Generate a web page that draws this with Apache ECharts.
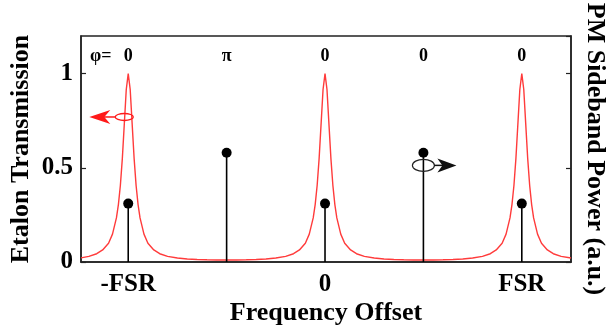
<!DOCTYPE html>
<html>
<head>
<meta charset="utf-8">
<script src="https://cdn.jsdelivr.net/npm/echarts@6/dist/echarts.min.js"></script>
<style>
html,body{margin:0;padding:0;background:#fff;}
#c{width:608px;height:330px;}
</style>
</head>
<body>
<div id="c"></div>
<script>
// Etalon transmission (red curve)
var freqOffset = [-1.24,-1.2,-1.16,-1.13,-1.1,-1.08,-1.06,-1.05,-1.04,-1.03,-1.02,-1.01,-1,
  -0.99,-0.98,-0.97,-0.96,-0.95,-0.94,-0.92,-0.9,-0.87,-0.84,-0.8,-0.75,-0.7,-0.65,-0.6,-0.55,-0.5,
  -0.45,-0.4,-0.35,-0.3,-0.25,-0.2,-0.16,-0.13,-0.1,-0.08,-0.06,-0.05,-0.04,-0.03,-0.02,-0.01,0,
  0.01,0.02,0.03,0.04,0.05,0.06,0.08,0.1,0.13,0.16,0.2,0.25,0.3,0.35,0.4,0.45,0.5,
  0.55,0.6,0.65,0.7,0.75,0.8,0.84,0.87,0.9,0.92,0.94,0.95,0.96,0.97,0.98,0.99,1,
  1.01,1.02,1.03,1.04,1.05,1.06,1.08,1.1,1.13,1.16,1.2,1.25];
var transmission = [0.022,0.03,0.044,0.064,0.10,0.148,0.234,0.305,0.406,0.549,0.732,0.916,1,
  0.916,0.732,0.549,0.406,0.305,0.234,0.148,0.10,0.064,0.044,0.03,0.021,0.016,0.0134,0.0117,0.0109,0.0106,
  0.0109,0.0117,0.0134,0.016,0.021,0.03,0.044,0.064,0.10,0.148,0.234,0.305,0.406,0.549,0.732,0.916,1,
  0.916,0.732,0.549,0.406,0.305,0.234,0.148,0.10,0.064,0.044,0.03,0.021,0.016,0.0134,0.0117,0.0109,0.0106,
  0.0109,0.0117,0.0134,0.016,0.021,0.03,0.044,0.064,0.10,0.148,0.234,0.305,0.406,0.549,0.732,0.916,1,
  0.916,0.732,0.549,0.406,0.305,0.234,0.148,0.10,0.064,0.044,0.03,0.021];

// PM sidebands (stems)
var sidebandPos = [-1, -0.5, 0, 0.5, 1];
var sidebandPower = [0.31, 0.58, 0.31, 0.58, 0.31];

// phase labels
var phasePos = [-1.14, -1, -0.5, 0, 0.5, 1];
var phaseText = ['\u03C6=', '0', '\u03C0', '0', '0', '0'];
var phaseLevel = 1.09;

// axis ticks
var xTickValues = [-1, 0, 1];
var xTickLabels = ['-FSR', '0', 'FSR'];

var SERIF = '"Liberation Serif","DejaVu Serif",serif';

var chart = echarts.init(document.getElementById('c'), null, {renderer: 'canvas'});

var curveData = freqOffset.map(function (x, i) { return [x, transmission[i]]; });
var stemData = sidebandPos.map(function (x, i) { return [x, sidebandPower[i]]; });
var phaseData = phasePos.map(function (x, i) { return {value: [x, phaseLevel], name: phaseText[i]}; });

var axisLineStyle = {color: '#222', width: 1.5};

chart.setOption({
  animation: false,
  backgroundColor: '#fff',
  grid: {left: 81, right: 37, top: 36, bottom: 68, outerBoundsMode: 'none', containLabel: false,
    show: true, borderColor: '#222', borderWidth: 1.5, backgroundColor: 'transparent'},
  xAxis: {
    type: 'value', min: -1.24, max: 1.25,
    splitLine: {show: false},
    axisLine: {show: true, lineStyle: axisLineStyle, onZero: false},
    axisTick: {show: false},
    axisLabel: {
      customValues: xTickValues,
      margin: 10,
      color: '#000', fontFamily: SERIF, fontWeight: 'bold', fontSize: 25,
      formatter: function (v) {
        for (var i = 0; i < xTickValues.length; i++) if (Math.abs(v - xTickValues[i]) < 1e-6) return xTickLabels[i];
        return '';
      }
    },
    name: 'Frequency Offset', nameLocation: 'middle', nameGap: 38, nameMoveOverlap: false,
    nameTextStyle: {color: '#000', fontFamily: SERIF, fontWeight: 'bold', fontSize: 26}
  },
  yAxis: [{
    type: 'value', min: 0, max: 1.2, interval: 0.5,
    splitLine: {show: false},
    axisLine: {show: true, lineStyle: axisLineStyle, onZero: false},
    axisTick: {show: true, inside: true, length: 5, lineStyle: {color: '#222', width: 1.2}},
    axisLabel: {showMaxLabel: false, margin: 8, color: '#000', fontFamily: SERIF, fontWeight: 'bold', fontSize: 25},
    name: 'Etalon Transmission', nameLocation: 'middle', nameRotate: 90, nameGap: 47, nameMoveOverlap: false,
    nameTextStyle: {color: '#000', fontFamily: SERIF, fontWeight: 'bold', fontSize: 26}
  }, {
    type: 'value', min: 0, max: 1.2, interval: 0.5, position: 'right',
    splitLine: {show: false},
    axisLine: {show: true, lineStyle: axisLineStyle, onZero: false},
    axisTick: {show: true, inside: true, length: 5, lineStyle: {color: '#222', width: 1.2}},
    axisLabel: {show: false},
    name: 'PM Sideband Power (a.u.)', nameLocation: 'middle', nameRotate: -90, nameGap: 11, nameMoveOverlap: false,
    nameTextStyle: {color: '#000', fontFamily: SERIF, fontWeight: 'bold', fontSize: 26}
  }],
  series: [{
    type: 'line', data: curveData, showSymbol: false, symbol: 'none',
    lineStyle: {color: '#ff3b3b', width: 1.4}, z: 2, silent: true
  }, {
    type: 'bar', data: stemData, yAxisIndex: 1, barWidth: 1.6,
    itemStyle: {color: '#000'}, z: 3, silent: true
  }, {
    type: 'scatter', data: stemData, yAxisIndex: 1, symbol: 'circle', symbolSize: 10,
    itemStyle: {color: '#000', opacity: 1}, z: 4, silent: true
  }, {
    type: 'scatter', data: phaseData, symbolSize: 0, silent: true,
    itemStyle: {opacity: 1},
    label: {show: true, position: 'inside', formatter: function (p) { return p.name; },
      color: '#000', opacity: 1, fontFamily: SERIF, fontWeight: 'bold', fontSize: 18}
  }]
});

// annotations (axis-direction indicators)
var redC = chart.convertToPixel({gridIndex: 0}, [-1.02, 0.77]);
var blkC = chart.convertToPixel({gridIndex: 0}, [0.5, 0.513]);
chart.setOption({
  graphic: [
    {type: 'ellipse', shape: {cx: redC[0], cy: redC[1], rx: 9, ry: 3.5}, style: {fill: 'none', stroke: '#ff1a1a', lineWidth: 1.3}, z: 10},
    {type: 'line', shape: {x1: redC[0] - 9, y1: redC[1], x2: redC[0] - 22, y2: redC[1]}, style: {stroke: '#ff1a1a', lineWidth: 1.5}, z: 10},
    {type: 'polygon', shape: {points: [[redC[0] - 35, redC[1]], [redC[0] - 14, redC[1] - 7], [redC[0] - 20, redC[1]], [redC[0] - 14, redC[1] + 7]]}, style: {fill: '#ff1a1a'}, z: 10},
    {type: 'ellipse', shape: {cx: blkC[0], cy: blkC[1], rx: 11, ry: 6}, style: {fill: 'none', stroke: '#222', lineWidth: 1.2}, z: 10},
    {type: 'line', shape: {x1: blkC[0] + 11, y1: blkC[1], x2: blkC[0] + 20, y2: blkC[1]}, style: {stroke: '#111', lineWidth: 1.5}, z: 10},
    {type: 'polygon', shape: {points: [[blkC[0] + 33, blkC[1]], [blkC[0] + 14, blkC[1] - 7], [blkC[0] + 19, blkC[1]], [blkC[0] + 14, blkC[1] + 7]]}, style: {fill: '#111'}, z: 10}
  ]
});
</script>
</body>
</html>
